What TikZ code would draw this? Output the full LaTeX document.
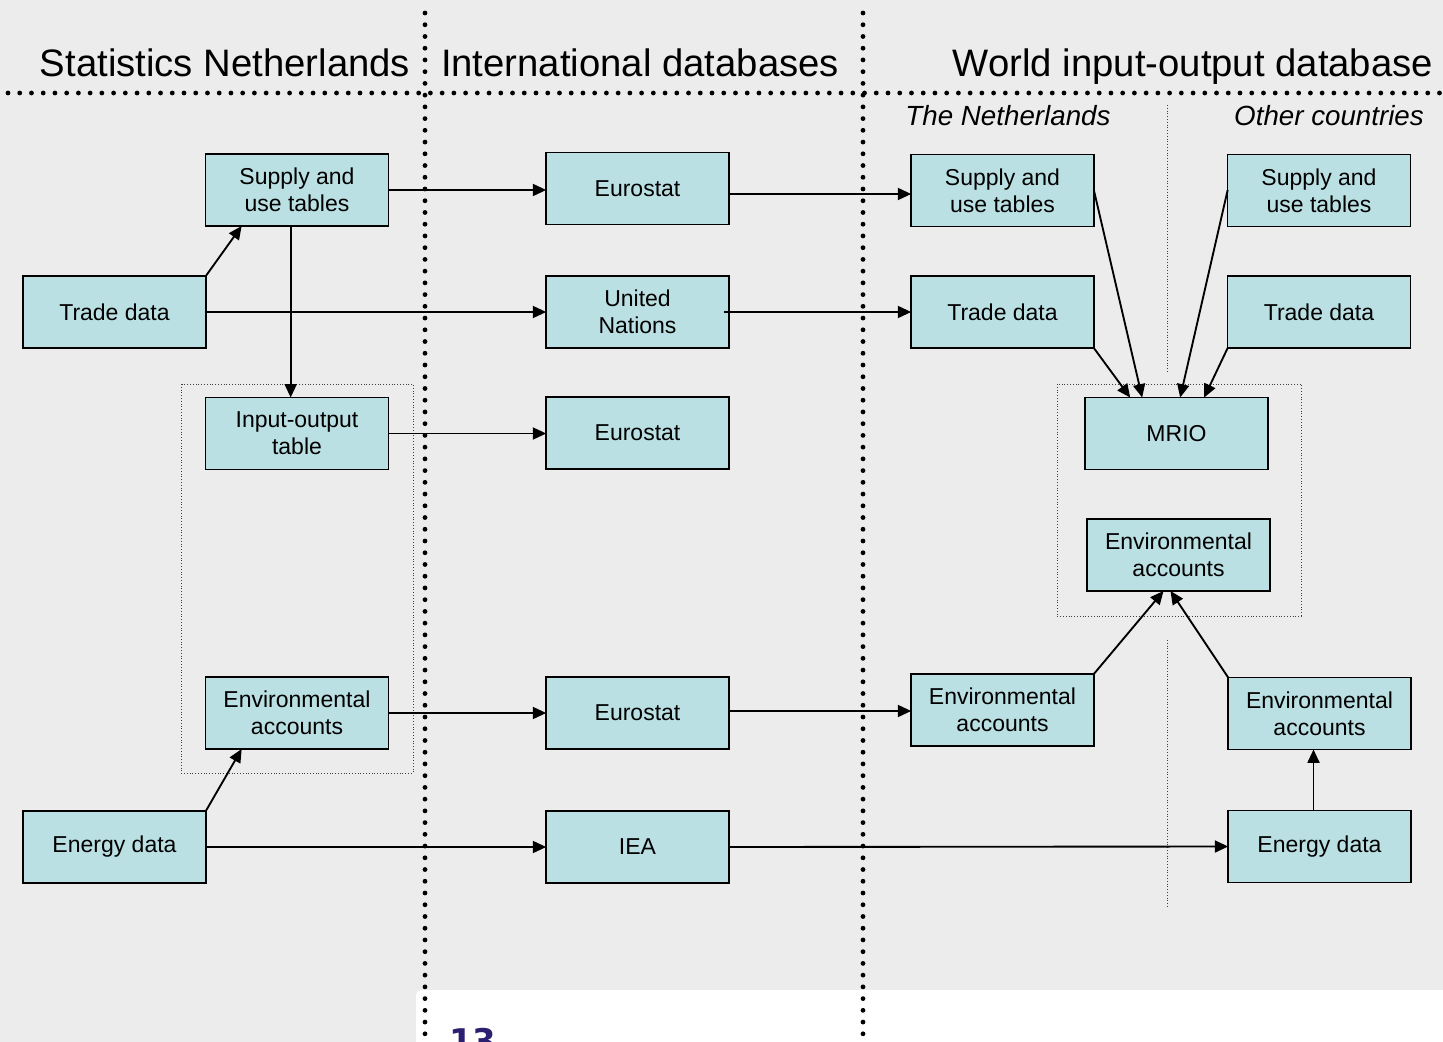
\documentclass[tikz,border=0pt]{standalone}
\usepackage{fontspec}
\setmainfont{Liberation Sans}
\newfontfamily\numfont{DejaVu Sans}
\usetikzlibrary{calc,arrows.meta}
\definecolor{bgc}{HTML}{ECECEC}
\definecolor{boxc}{HTML}{BAE0E3}
\definecolor{navy}{HTML}{2B2070}
\tikzset{
  box/.style={draw=black, line width=1.2pt, fill=boxc, minimum width=137pt, minimum height=54pt,
    inner sep=0pt, outer sep=0pt, align=center, font=\fontsize{17.25}{20.25}\selectfont},
  arr/.style={line width=1.4pt, -{Triangle[length=10pt,width=9pt]}},
  bigdots/.style={line width=3.6pt, line cap=round, dash pattern=on 0pt off 8.8pt},
  thindots/.style={line width=0.7pt, draw=black!75, dash pattern=on 0.7pt off 1.4pt},
  title/.style={font=\fontsize{28.7}{32}\selectfont, inner sep=0pt, anchor=base},
  subtitle/.style={font=\fontsize{20.8}{24}\selectfont\itshape, inner sep=0pt, anchor=base}
}
\begin{document}
\begin{tikzpicture}[x=0.75pt, y=-0.75pt]
\useasboundingbox (0,0) rectangle (1443,1042);
\fill[bgc] (0,0) rectangle (1443,1042);
\fill[white, rounded corners=4] (416,990) rectangle (1460,1060);
\node[anchor=north west, inner sep=0pt, text=navy, font=\numfont\bfseries\fontsize{25.5}{28}\selectfont] (pg) at (449,1028) {13};

% dotted separators
\draw[bigdots] (8,93) -- (1443,93);
\draw[bigdots] (425,13) -- (425,1042);
\draw[bigdots] (863,13) -- (863,1042);
\draw[thindots] (1167,105) -- (1167,372);
\draw[thindots] (1167,640) -- (1167,907);
\draw[thindots] (181,384) rectangle (413,773);
\draw[thindots] (1057,384) rectangle (1301,616);

% titles
\node[title] (t1) at (225,76) {Statistics Netherlands};
\node[title] (t2) at (640,76) {International databases};
\node[title] (t3) at (1193,76) {World input-output database};
\node[subtitle] (s1) at (1008,125) {The Netherlands};
\node[subtitle] (s2) at (1329,125) {Other countries};

% boxes
\node[box] (sutnl) at (297,190) {Supply and\\use tables};
\node[box] (tradenl) at (114.5,312) {Trade data};
\node[box] (ionl) at (297,433.5) {Input-output\\table};
\node[box] (envnl) at (297,713) {Environmental\\accounts};
\node[box] (energynl) at (114.5,847) {Energy data};

\node[box] (euro1) at (637.5,188.5) {Eurostat};
\node[box] (un) at (637.5,312) {United\\Nations};
\node[box] (euro2) at (637.5,433) {Eurostat};
\node[box] (euro3) at (637.5,713) {Eurostat};
\node[box] (iea) at (637.5,847) {IEA};

\node[box] (sutw) at (1002.5,190.5) {Supply and\\use tables};
\node[box] (tradew) at (1002.5,312) {Trade data};
\node[box] (envw) at (1002.5,710) {Environmental\\accounts};
\node[box] (suto) at (1319,190.5) {Supply and\\use tables};
\node[box] (tradeo) at (1319,312) {Trade data};
\node[box] (mrio) at (1176.5,433.5) {MRIO};
\node[box] (envm) at (1178.5,555) {Environmental\\accounts};
\node[box] (envo) at (1319.5,713.5) {Environmental\\accounts};
\node[box] (energyo) at (1319.5,846.5) {Energy data};

% connectors: Statistics Netherlands
\draw[arr] (tradenl.north east) -- ($(sutnl.south west)+(36,0)$);
\draw[arr] ($(sutnl.south west)+(85,0)$) -- ($(ionl.north west)+(85,0)$);
\draw[arr] (energynl.north east) -- ($(envnl.south west)+(36,0)$);
\draw[arr] (sutnl.east) -- (euro1.west |- sutnl.east);
\draw[arr] (tradenl.east) -- (un.west);
\draw[arr] (ionl.east) -- (euro2.west |- ionl.east);
\draw[arr] (envnl.east) -- (euro3.west |- envnl.east);
\draw[arr] (energynl.east) -- (iea.west);

% connectors: International to WIOD
\draw[arr] ($(euro1.east)+(0,5.5)$) -- ($(sutw.west)+(0,3.5)$);
\draw[arr] ($(un.east)+(-5,0)$) -- (tradew.west);
\draw[arr] ($(euro3.east)+(0,-2)$) -- ($(envw.west)+(0,1)$);
\draw[arr] (iea.east) -- (energyo.west);

% connectors: WIOD
\draw[arr] ($(sutw.east)+(0,-0.5)$) -- ($(mrio.north west)+(57,0)$);
\draw[arr] (tradew.south east) -- ($(mrio.north west)+(45,0)$);
\draw[arr] ($(suto.west)+(0,-0.5)$) -- ($(mrio.north west)+(95,0)$);
\draw[arr] (tradeo.south west) -- ($(mrio.north west)+(119,0)$);
\draw[arr] ($(energyo.north)+(-6,0)$) -- ($(envo.south)+(-6,0)$);
\draw[arr] (envw.north east) -- ($(envm.south)+(-15,0)$);
\draw[arr] (envo.north west) -- ($(envm.south)+(-8,0)$);
\end{tikzpicture}
\end{document}
